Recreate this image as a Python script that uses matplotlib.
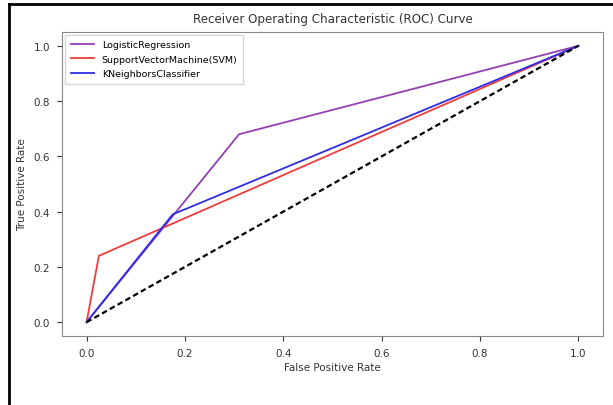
import matplotlib
matplotlib.use("Agg")
import matplotlib.pyplot as plt
from matplotlib.lines import Line2D

# ROC points
models = ["LogisticRegression", "SupportVectorMachine(SVM)", "KNeighborsClassifier"]
fpr = {
    "LogisticRegression": [0.0, 0.31, 1.0],
    "SupportVectorMachine(SVM)": [0.0, 0.025, 1.0],
    "KNeighborsClassifier": [0.0, 0.175, 1.0],
}
tpr = {
    "LogisticRegression": [0.0, 0.68, 1.0],
    "SupportVectorMachine(SVM)": [0.0, 0.24, 1.0],
    "KNeighborsClassifier": [0.0, 0.39, 1.0],
}
colors = {
    "LogisticRegression": "#9440b0",
    "SupportVectorMachine(SVM)": "#f03c3c",
    "KNeighborsClassifier": "#2d2de6",
}
chance = [0.0, 1.0]

fig = plt.figure(figsize=(6.13, 4.06), dpi=100)
ax = fig.add_axes([62 / 613, 1 - 337 / 406, 541 / 613, 304 / 406])

for m in models:
    ax.plot(fpr[m], tpr[m], color=colors[m], lw=1.3, label=m)
ax.plot(chance, chance, "k--", lw=1.6, dashes=(2.5, 1.5))

ax.set_xticks([0, 0.2, 0.4, 0.6, 0.8, 1.0])
ax.set_yticks([0, 0.2, 0.4, 0.6, 0.8, 1.0])
ax.tick_params(labelsize=7.5, colors="#333333", length=3.5, pad=5)
for s in ax.spines.values():
    s.set_color("#888888")
ax.set_xlabel("False Positive Rate", fontsize=7.5, color="#333333", labelpad=3)
ax.set_ylabel("True Positive Rate", fontsize=7.5, color="#333333", labelpad=5)
ax.set_title("Receiver Operating Characteristic (ROC) Curve", fontsize=8.6, color="#333333", pad=7)
ax.legend(loc="upper left", fontsize=6.8, handlelength=2.5, borderaxespad=0.3,
          labelspacing=0.55, borderpad=0.6, fancybox=False, edgecolor="#cccccc")

# black frame edges seen in the screenshot
fig.add_artist(Line2D([9 / 613, 1], [1 - 5 / 406, 1 - 5 / 406], color="black", lw=2, transform=fig.transFigure))
fig.add_artist(Line2D([9 / 613, 9 / 613], [0, 1 - 5 / 406], color="black", lw=2, transform=fig.transFigure))

fig.savefig("out.png", dpi=100)
